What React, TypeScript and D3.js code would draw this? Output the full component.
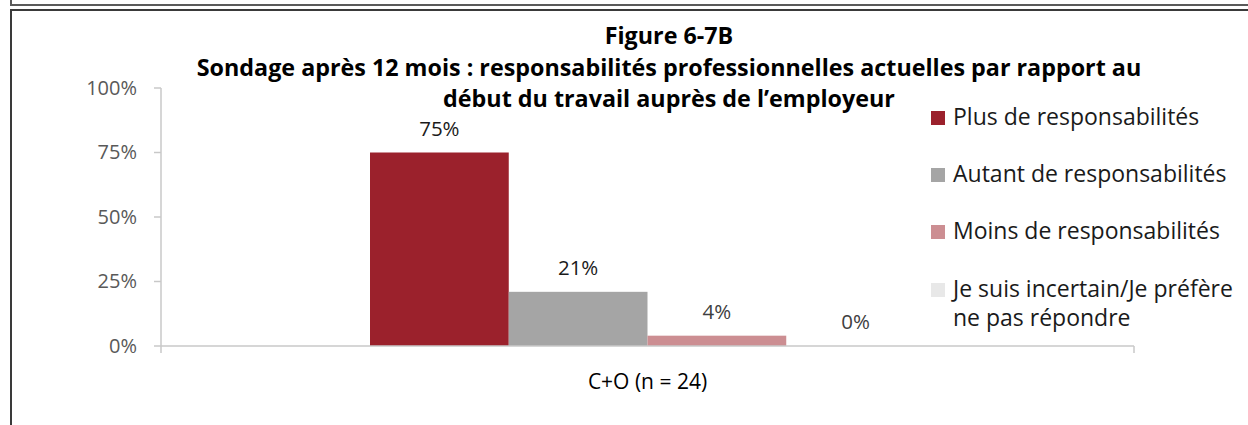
import React from "react";
import * as d3 from "d3";

const categories = ["C+O (n = 24)"];
const seriesNames = [
  "Plus de responsabilités",
  "Autant de responsabilités",
  "Moins de responsabilités",
  "Je suis incertain/Je préfère ne pas répondre",
];
const seriesValues = [0.75, 0.21, 0.04, 0.0];
const seriesColors = ["#9b212c", "#a5a5a5", "#cc8e92", "#e8e8e8"];
const labelColors = ["#1a1a1a", "#1a1a1a", "#404040", "#404040"];
const yTicks = [0, 0.25, 0.5, 0.75, 1];
const titleLines = [
  "Figure 6-7B",
  "Sondage après 12 mois : responsabilités professionnelles actuelles par rapport au",
  "début du travail auprès de l’employeur",
];
const legendLines = [
  ["Plus de responsabilités"],
  ["Autant de responsabilités"],
  ["Moins de responsabilités"],
  ["Je suis incertain/Je préfère", "ne pas répondre"],
];

const W = 1248;
const H = 425;
const FONT = "'Open Sans', Lato, sans-serif";

export default function App() {
  const y = d3.scaleLinear().domain([0, 1]).range([346, 88]);
  const x0 = d3
    .scaleBand<string>()
    .domain(categories)
    .range([161, 1134])
    .paddingInner(0)
    .paddingOuter(0.3766);
  const x1 = d3
    .scaleBand<string>()
    .domain(seriesNames)
    .range([0, x0.bandwidth()]);
  const fmt = d3.format(".0%");
  const legendBase = [125, 182, 239, 297];

  return (
    <svg
      width={W}
      height={H}
      style={{ position: "absolute", left: 0, top: 0, background: "#fff" }}
      fontFamily={FONT}
    >
      <rect x={0} y={0} width={W} height={H} fill="#fff" />
      {/* frame */}
      <path d={`M11,0 V5 H${W}`} fill="none" stroke="#5a5a5a" strokeWidth={2} />
      <path d={`M11,${H} V10 H${W}`} fill="none" stroke="#3a3a3a" strokeWidth={2} />

      {/* title */}
      {titleLines.map((t, i) => (
        <text
          key={i}
          x={669}
          y={[43.5, 75.5, 106.5][i]}
          textAnchor="middle"
          fontWeight="bold"
          fontSize={23.3}
          fill="#000"
        >
          {t}
        </text>
      ))}

      {/* y axis */}
      <line x1={161} x2={161} y1={y(1)} y2={353} stroke="#c8c8c8" strokeWidth={1.5} />
      {yTicks.map((t) => (
        <g key={t}>
          <line x1={154} x2={161} y1={y(t)} y2={y(t)} stroke="#c8c8c8" strokeWidth={1.5} />
          <text
            x={137}
            y={y(t) + 6.5}
            textAnchor="end"
            fontSize={20}
            fill="#595959"
          >
            {fmt(t)}
          </text>
        </g>
      ))}

      {/* bars */}
      {categories.map((c) => (
        <g key={c} transform={`translate(${x0(c)},0)`}>
          {seriesNames.map((s, i) => (
            <g key={s}>
              <rect
                x={x1(s)}
                y={y(seriesValues[i])}
                width={x1.bandwidth()}
                height={y(0) - y(seriesValues[i])}
                fill={seriesColors[i]}
              />
              <text
                x={(x1(s) || 0) + x1.bandwidth() / 2}
                y={y(seriesValues[i]) - 17}
                textAnchor="middle"
                fontSize={20.5}
                fill={labelColors[i]}
              >
                {fmt(seriesValues[i])}
              </text>
            </g>
          ))}
        </g>
      ))}

      {/* x axis */}
      <line x1={161} x2={1134} y1={y(0)} y2={y(0)} stroke="#c8c8c8" strokeWidth={1.5} />
      <line x1={1134} x2={1134} y1={y(0)} y2={353} stroke="#c8c8c8" strokeWidth={1.5} />
      {categories.map((c) => (
        <text
          key={c}
          x={(x0(c) || 0) + x0.bandwidth() / 2}
          y={389}
          textAnchor="middle"
          fontSize={21}
          fill="#000"
        >
          {c}
        </text>
      ))}

      {/* legend */}
      {seriesNames.map((s, i) => (
        <g key={s}>
          <rect x={931} y={legendBase[i] - 14} width={14} height={14} fill={seriesColors[i]} />
          {legendLines[i].map((l, j) => (
            <text
              key={j}
              x={953}
              y={legendBase[i] + j * 29}
              fontSize={23}
              fill="#1a1a1a"
            >
              {l}
            </text>
          ))}
        </g>
      ))}
    </svg>
  );
}
